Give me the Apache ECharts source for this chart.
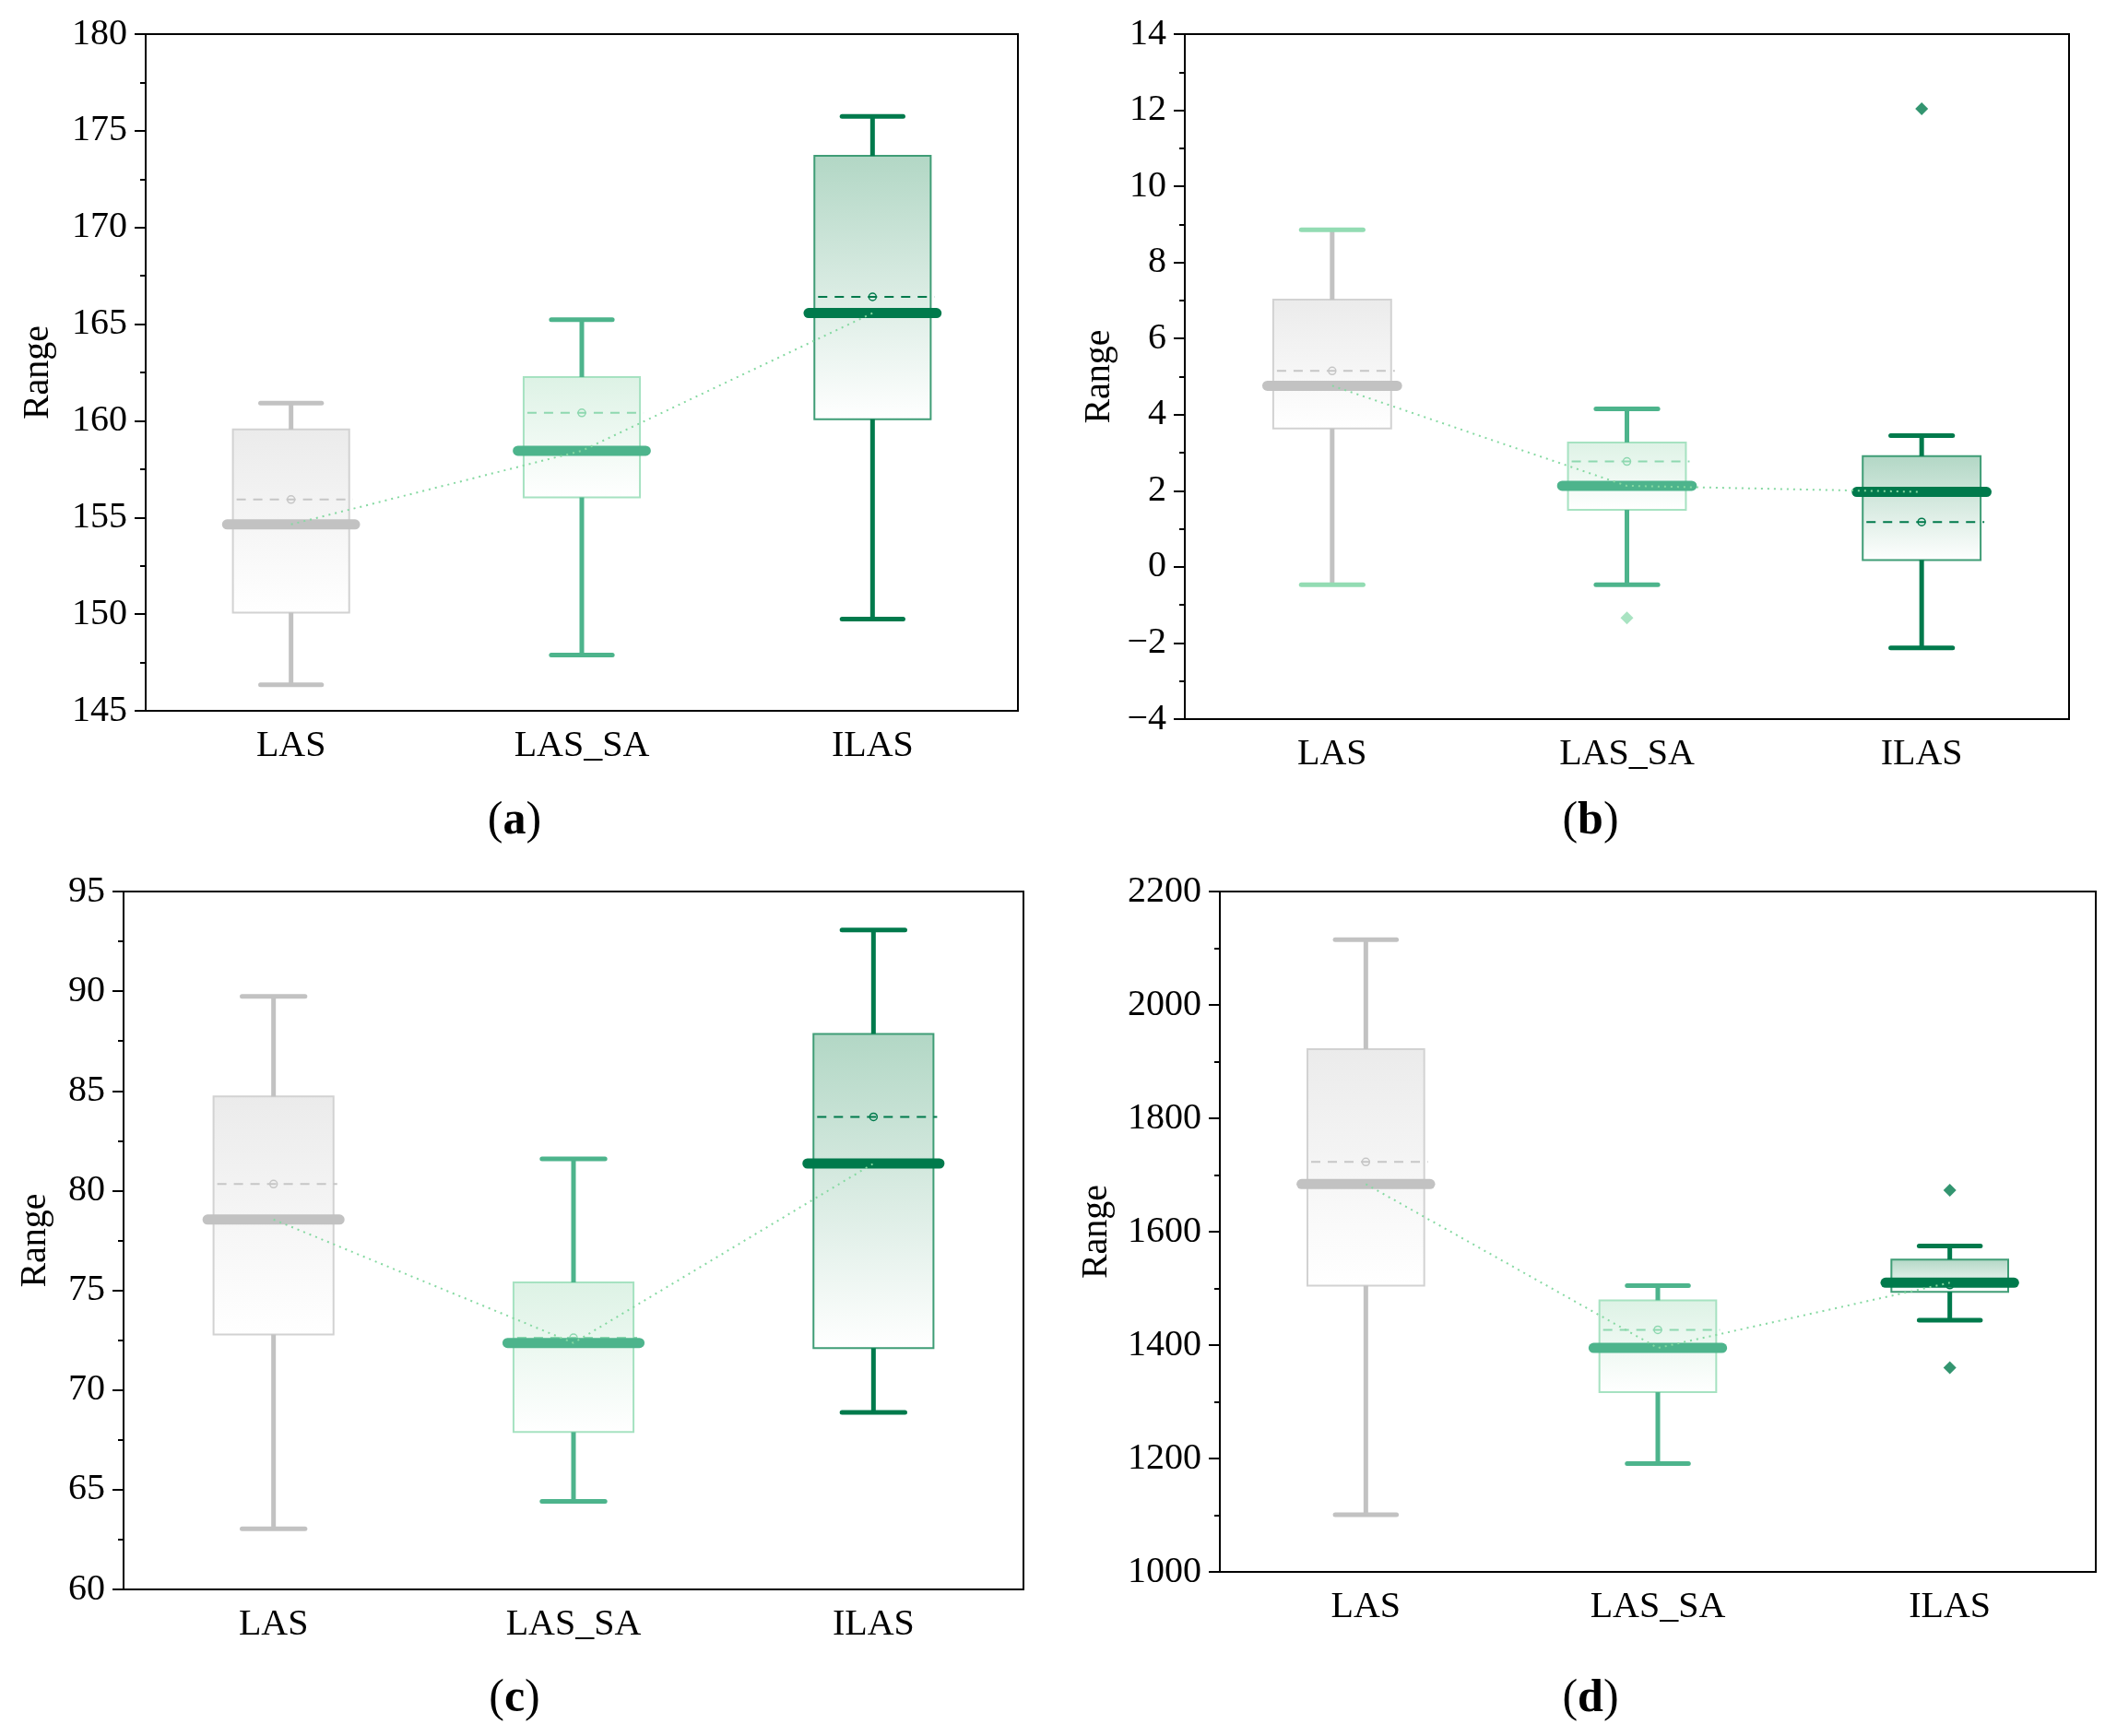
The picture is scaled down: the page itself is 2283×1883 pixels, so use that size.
<!DOCTYPE html>
<html>
<head>
<meta charset="utf-8">
<script src="https://cdn.jsdelivr.net/npm/echarts@6/dist/echarts.min.js"></script>
<style>
  html, body { margin: 0; padding: 0; background: #fff; }
  #chart { width: 2283px; height: 1883px; }
</style>
</head>
<body>
<div id="chart"></div>
<script>
const categories = ['LAS', 'LAS_SA', 'ILAS'];

// each row: [min, Q1, median, Q3, max, mean]
const boxA = [
  [146.35, 150.08, 154.64, 159.55, 160.92, 155.93],
  [147.89, 156.04, 158.45, 162.26, 165.23, 160.41],
  [149.74, 160.08, 165.57, 173.70, 175.74, 166.41]
];
const boxB = [
  [-0.47, 3.64, 4.76, 7.02, 8.86, 5.15],
  [-0.47, 1.50, 2.13, 3.27, 4.15, 2.77],
  [-2.13, 0.18, 1.97, 2.91, 3.45, 1.18]
];
const boxC = [
  [63.04, 72.78, 78.55, 84.72, 89.74, 80.33],
  [64.41, 67.89, 72.36, 75.40, 81.59, 72.62],
  [68.88, 72.10, 81.36, 87.86, 93.07, 83.70]
];
const boxD = [
  [1101, 1505, 1684, 1922, 2115, 1723],
  [1191, 1317, 1395, 1479, 1505, 1427],
  [1444, 1494, 1510, 1551, 1575, 1506]
];

// [category index, value]
const outliersA = [];
const outliersB = [[1, -1.34], [2, 12.04]];
const outliersC = [];
const outliersD = [[2, 1673], [2, 1360]];

const yRanges = [
  { min: 145, max: 180, interval: 5 },
  { min: -4, max: 14, interval: 2 },
  { min: 60, max: 95, interval: 5 },
  { min: 1000, max: 2200, interval: 200 }
];
const panelLetters = ['a', 'b', 'c', 'd'];

const FONT = '"Liberation Serif", "DejaVu Serif", serif';

// per category look
const looks = [
  { line: '#c2c2c2', border: '#d2d2d2', top: '#ebebeb', mean: '#c6c6c6', out: '#c2c2c2' },
  { line: '#4db48c', border: '#a6e2c1', top: '#ddf2e5', mean: '#8ed8b0', out: '#93dcb3' },
  { line: '#007a4c', border: '#3f9d76', top: '#b2d7c5', mean: '#007a4c', out: '#007a4c' }
];

const grids = [
  { left: 158, top: 37, width: 946, height: 734 },
  { left: 1285, top: 37, width: 959, height: 743 },
  { left: 134, top: 967, width: 976, height: 757 },
  { left: 1323, top: 967, width: 950, height: 738 }
];
const nameGaps = [97, 73, 76, 114];
const letterPos = [[558, 891], [1725, 891], [558, 1843], [1725, 1843]];

const boxes = [boxA, boxB, boxC, boxD];
const outliers = [outliersA, outliersB, outliersC, outliersD];

function makeRender(panel) {
  return function (params, api) {
    const i = api.value(0);
    const lk = looks[i];
    // panel (b) draws the LAS whisker caps in light green
    const capColor = (panel === 1 && i === 0) ? '#93dcb3' : lk.line;
    const band = api.size([1, 0])[0];
    const bw = band * 0.4, mw = band * 0.44, cw = band * 0.21;
    const x = api.coord([i, 0])[0];
    const yMin = api.coord([i, api.value(1)])[1];
    const yQ1 = api.coord([i, api.value(2)])[1];
    const yMed = api.coord([i, api.value(3)])[1];
    const yQ3 = api.coord([i, api.value(4)])[1];
    const yMax = api.coord([i, api.value(5)])[1];
    const yMean = api.coord([i, api.value(6)])[1];
    return {
      type: 'group',
      children: [
        {
          type: 'rect',
          shape: { x: x - bw / 2, y: yQ3, width: bw, height: yQ1 - yQ3 },
          style: {
            fill: {
              type: 'linear', x: 0, y: 0, x2: 0, y2: 1,
              colorStops: [{ offset: 0, color: lk.top }, { offset: 1, color: '#ffffff' }]
            },
            stroke: lk.border, lineWidth: 2
          }
        },
        { type: 'line', shape: { x1: x, y1: yQ3, x2: x, y2: yMax }, style: { stroke: lk.line, lineWidth: 5 } },
        { type: 'line', shape: { x1: x, y1: yQ1, x2: x, y2: yMin }, style: { stroke: lk.line, lineWidth: 5 } },
        { type: 'line', shape: { x1: x - cw / 2, y1: yMax, x2: x + cw / 2, y2: yMax }, style: { stroke: capColor, lineWidth: 5, lineCap: 'round' } },
        { type: 'line', shape: { x1: x - cw / 2, y1: yMin, x2: x + cw / 2, y2: yMin }, style: { stroke: capColor, lineWidth: 5, lineCap: 'round' } },
        { type: 'line', shape: { x1: x - bw / 2 + 4, y1: yMean, x2: x + bw / 2 + 4, y2: yMean }, style: { stroke: lk.mean, lineWidth: 2, lineDash: [10, 8] } },
        { type: 'circle', shape: { cx: x, cy: yMean, r: 4 }, style: { fill: 'none', stroke: lk.mean, lineWidth: 1.5 } },
        { type: 'line', shape: { x1: x - mw / 2, y1: yMed, x2: x + mw / 2, y2: yMed }, style: { stroke: lk.line, lineWidth: 11, lineCap: 'round' } }
      ]
    };
  };
}

function fmt(v) {
  return v < 0 ? '\u2212' + Math.abs(v) : String(v);
}

const option = {
  backgroundColor: '#fff',
  animation: false,
  grid: grids.map(g => Object.assign({ show: true, borderColor: '#000', borderWidth: 2 }, g)),
  xAxis: grids.map((g, k) => ({
    type: 'category',
    gridIndex: k,
    data: categories,
    axisLine: { onZero: false, lineStyle: { color: '#000', width: 2 } },
    axisTick: { alignWithLabel: true, length: 12, lineStyle: { color: '#000', width: 2 } },
    axisLabel: { color: '#000', fontFamily: FONT, fontSize: 40, margin: 18 },
    splitLine: { show: false }
  })),
  yAxis: yRanges.map((r, k) => ({
    type: 'value',
    gridIndex: k,
    min: r.min, max: r.max, interval: r.interval,
    name: 'Range',
    nameLocation: 'middle',
    nameGap: nameGaps[k],
    nameTextStyle: { color: '#000', fontFamily: FONT, fontSize: 40 },
    axisLine: { show: true, lineStyle: { color: '#000', width: 2 } },
    axisTick: { show: true, length: 12, lineStyle: { color: '#000', width: 2 } },
    minorTick: { show: true, splitNumber: 2, length: 6, lineStyle: { color: '#000', width: 2 } },
    axisLabel: { color: '#000', fontFamily: FONT, fontSize: 40, margin: 20, formatter: fmt },
    splitLine: { show: false },
    minorSplitLine: { show: false }
  })),
  series: [],
  graphic: letterPos.map((p, k) => ({
    type: 'text',
    x: p[0], y: p[1],
    style: {
      text: '{p|(}{b|' + panelLetters[k] + '}{p|)}',
      align: 'center', verticalAlign: 'middle',
      rich: {
        p: { fontFamily: FONT, fontSize: 50, fill: '#000' },
        b: { fontFamily: FONT, fontSize: 50, fontWeight: 'bold', fill: '#000' }
      }
    }
  }))
};

boxes.forEach((box, k) => {
  option.series.push({
    type: 'custom',
    xAxisIndex: k, yAxisIndex: k,
    z: 2,
    renderItem: makeRender(k),
    encode: { x: 0, y: [1, 2, 3, 4, 5] },
    data: box.map((b, i) => [i].concat(b))
  });
  option.series.push({
    type: 'line',
    xAxisIndex: k, yAxisIndex: k,
    z: 3,
    symbol: 'none',
    lineStyle: { color: '#86d9a2', width: 2, type: [2, 5] },
    data: box.map(b => b[2])
  });
  option.series.push({
    type: 'scatter',
    xAxisIndex: k, yAxisIndex: k,
    z: 4,
    symbol: 'diamond',
    symbolSize: 14,
    data: outliers[k].map(o => ({ value: o, itemStyle: { color: looks[o[0]].out } }))
  });
});

const chart = echarts.init(document.getElementById('chart'));
chart.setOption(option);
</script>
</body>
</html>
